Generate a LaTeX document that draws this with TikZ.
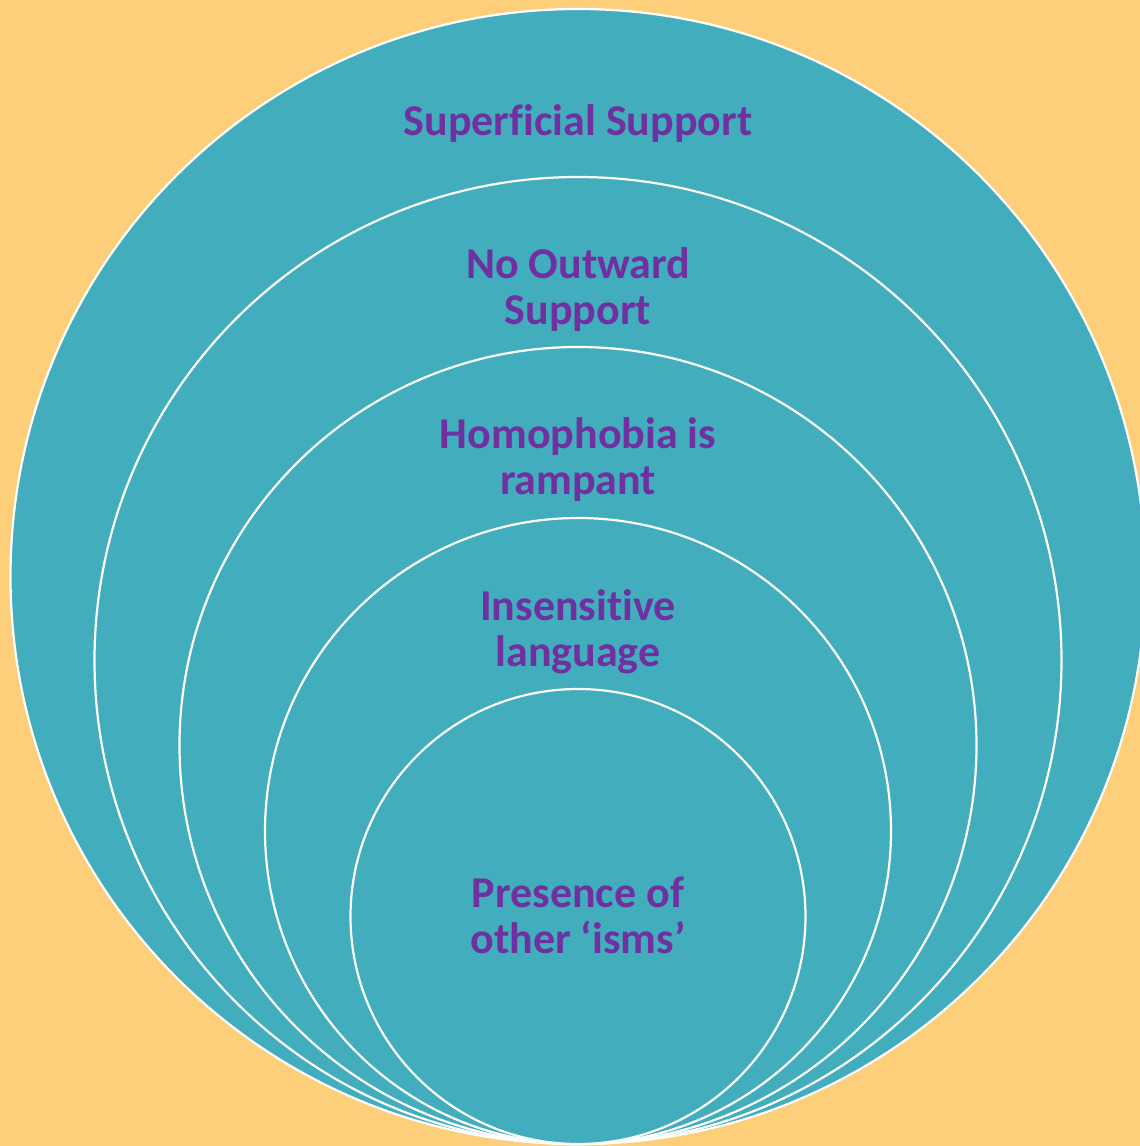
\documentclass[tikz,border=0pt]{standalone}
\usepackage{fontspec}
\setmainfont{Carlito}[Ligatures=CommonOff]
\definecolor{bgpeach}{HTML}{FDCF7A}
\definecolor{ringteal}{HTML}{41ADBD}
\definecolor{labelpurple}{HTML}{7030A0}
\tikzset{
  ring/.style={fill=ringteal, draw=white, line width=2.2pt},
  lbl/.style={anchor=base, inner sep=0pt, text=labelpurple,
    font=\fontsize{44}{47}\selectfont\bfseries}
}
\begin{document}
\begin{tikzpicture}[x=1pt, y=-1pt]
  \useasboundingbox (0,0) rectangle (1140,1146);
  \fill[bgpeach] (0,0) rectangle (1140,1146);
  \clip (0,0) rectangle (1140,1146);
  % nested circles, all tangent at the bottom (y = 1144)
  \draw[ring] (578,576.5) circle[radius=567.5pt];
  \draw[ring] (578,660.5) circle[radius=483.5pt];
  \draw[ring] (578,745.5) circle[radius=398.5pt];
  \draw[ring] (578,831)   circle[radius=313pt];
  \draw[ring] (578,916.5) circle[radius=227.5pt];
  % labels
  \node[lbl] (l1)  at (578,135) {Superficial Support};
  \node[lbl] (l2a) at (578,278) {No Outward};
  \node[lbl] (l2b) at (578,324) {Support};
  \node[lbl] (l3a) at (578,448) {Homophobia is};
  \node[lbl] (l3b) at (578,494) {rampant};
  \node[lbl] (l4a) at (578,620) {Insensitive};
  \node[lbl] (l4b) at (578,666) {language};
  \node[lbl] (l5a) at (578,907) {Presence of};
  \node[lbl] (l5b) at (578,953) {other ‘isms’};
\end{tikzpicture}
\end{document}
